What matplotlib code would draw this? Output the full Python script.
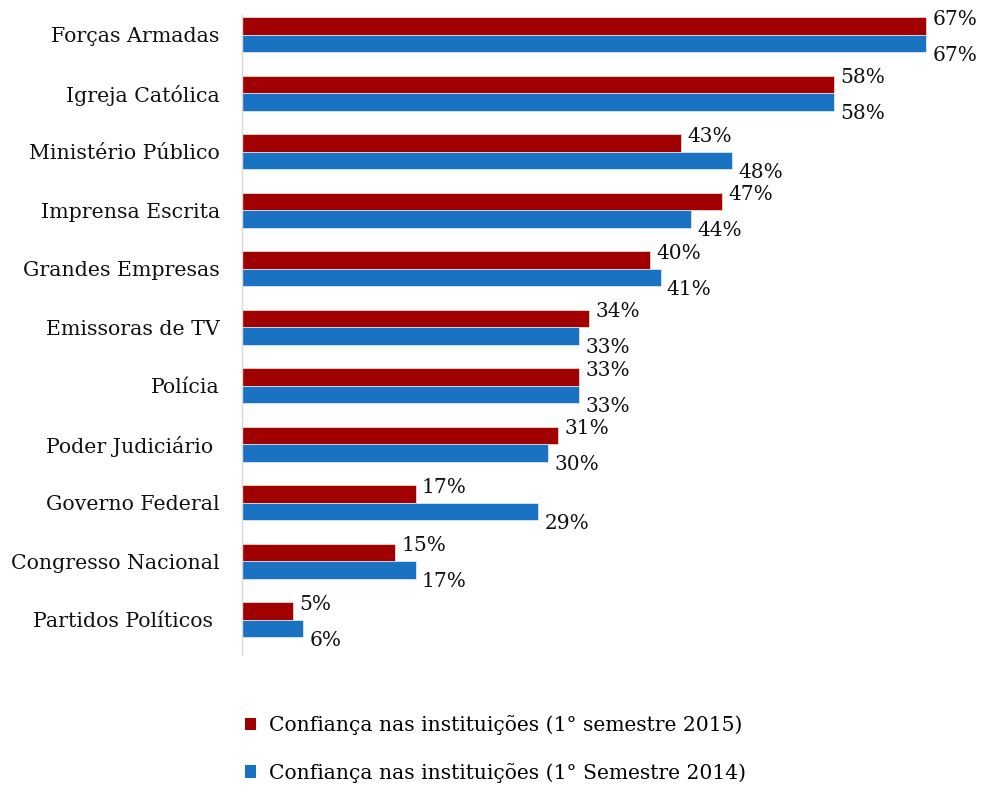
import numpy as np
import matplotlib
matplotlib.use("Agg")
import matplotlib.pyplot as plt
from matplotlib.patches import Patch

# ── Data ──────────────────────────────────────────────────────────────────────
institutions = [
    "Forças Armadas", "Igreja Católica", "Ministério Público", "Imprensa Escrita",
    "Grandes Empresas", "Emissoras de TV", "Polícia", "Poder Judiciário ",
    "Governo Federal", "Congresso Nacional", "Partidos Políticos ",
]
conf_2015 = [67, 58, 43, 47, 40, 34, 33, 31, 17, 15, 5]
conf_2014 = [67, 58, 48, 44, 41, 33, 33, 30, 29, 17, 6]

label_2015 = "Confiança nas instituições (1° semestre 2015)"
label_2014 = "Confiança nas instituições (1° Semestre 2014)"

RED = "#A00000"
BLUE = "#1A72C2"
FONT = "DejaVu Serif"
TXT = "#111111"

# ── Figure ────────────────────────────────────────────────────────────────────
fig = plt.figure(figsize=(9.82, 8.02), dpi=100)
ax = fig.add_axes([242 / 982, 1 - 655 / 802, (977 - 242) / 982, 640 / 802])

y = np.arange(len(institutions))
h = 0.3
bars_r = ax.barh(y - h / 2, conf_2015, height=h, color=RED, edgecolor="white", linewidth=0.4)
bars_b = ax.barh(y + h / 2, conf_2014, height=h, color=BLUE, edgecolor="white", linewidth=0.4)

# value labels: 2015 nudged up, 2014 nudged down
for bar, val in zip(bars_r, conf_2015):
    ax.annotate(f"{val}%", (bar.get_width(), bar.get_y() + bar.get_height() / 2),
                xytext=(4.5, 5), textcoords="offset points", ha="left", va="center",
                fontsize=14.5, family=FONT, color=TXT)
for bar, val in zip(bars_b, conf_2014):
    ax.annotate(f"{val}%", (bar.get_width(), bar.get_y() + bar.get_height() / 2),
                xytext=(4.5, -8.5), textcoords="offset points", ha="left", va="center",
                fontsize=14.5, family=FONT, color=TXT)

ax.set_xlim(0, 72)
ax.set_ylim(len(institutions) - 1 + 0.6, -0.34)
ax.set_yticks(y)
ax.set_yticklabels(institutions, fontsize=14.8, family=FONT, color=TXT)
ax.tick_params(axis="y", length=0, pad=16)
ax.set_xticks([])
for side in ["top", "right", "bottom"]:
    ax.spines[side].set_visible(False)
ax.spines["left"].set_color("#D9D9D9")
ax.spines["left"].set_linewidth(1)

# ── Legend ────────────────────────────────────────────────────────────────────
handles = [Patch(facecolor=RED), Patch(facecolor=BLUE)]
fig.legend(handles, [label_2015, label_2014], loc="upper left",
           bbox_to_anchor=(227 / 982, 1 - 697 / 802), frameon=False,
           prop={"family": FONT, "size": 14.6}, handlelength=0.55, handleheight=0.55,
           handletextpad=0.6, labelspacing=1.35)

fig.savefig("out.png", dpi=100)
